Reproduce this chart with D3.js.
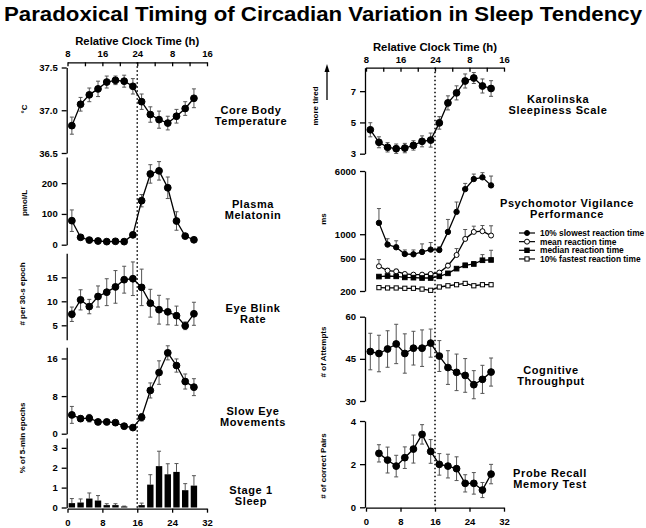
<!DOCTYPE html>
<html>
<head>
<meta charset="utf-8">
<script src="https://cdn.jsdelivr.net/npm/d3@7"></script>
<style>
body { margin: 0; background: #fff; }
svg { font-family: "Liberation Sans", Arial, sans-serif; font-weight: bold; }
</style>
</head>
<body>
<svg width="646" height="528"></svg>
<script>
// elapsed hours of each sample
const hours = [1, 3, 5, 7, 9, 11, 13, 15, 17, 19, 21, 23, 25, 27, 29];
const hoursLate = [3, 5, 7, 9, 11, 13, 15, 17, 19, 21, 23, 25, 27, 29];

// axis tick labels
const clockTicks = [0, 4, 8, 12, 16, 20, 24, 28, 32];
const clockLabels = ["8", "", "16", "", "24", "", "8", "", "16"];
const elapsedTicks = [0, 8, 16, 24, 32];

// left column
const tempMean = [36.82, 37.07, 37.18, 37.25, 37.33, 37.35, 37.34, 37.28, 37.10, 36.95, 36.89, 36.85, 36.93, 37.02, 37.14];
const tempSem = [0.10, 0.08, 0.08, 0.09, 0.07, 0.05, 0.07, 0.09, 0.09, 0.09, 0.10, 0.08, 0.08, 0.08, 0.11];
const melMean = [78, 24, 15, 12, 10, 11, 10, 32, 143, 230, 240, 185, 77, 28, 16];
const melSem = [35, 6, 4, 3, 3, 3, 3, 8, 20, 30, 30, 35, 30, 8, 4];
const blinkMean = [7.3, 10.3, 8.9, 11.0, 11.9, 13.0, 14.5, 14.7, 12.9, 9.6, 8.25, 7.8, 7.0, 4.9, 7.4];
const blinkSem = [1.5, 2.1, 1.5, 2.2, 2.8, 3.4, 2.8, 3.5, 3.8, 2.9, 3.0, 2.7, 2.0, 0.8, 2.4];
const semMean = [4.0, 3.2, 3.3, 2.5, 2.5, 2.35, 1.6, 1.3, 3.5, 9.2, 13.0, 17.2, 14.5, 11.1, 9.9];
const semSem = [1.8, 0.6, 0.8, 0.4, 0.3, 0.3, 0.4, 0.3, 0.8, 1.6, 2.5, 1.5, 1.4, 1.6, 1.8];
const stage1Mean = [0.22, 0.25, 0.45, 0.35, 0.12, 0.12, 0.05, 0, 0.12, 1.15, 2.08, 1.67, 1.79, 0.87, 1.1];
const stage1Sem = [0.23, 0.18, 0.28, 0.25, 0.07, 0.07, 0.02, 0, 0.1, 0.5, 0.75, 0.53, 0.42, 0.33, 0.5];

// right column
const kssMean = [4.53, 3.73, 3.41, 3.32, 3.36, 3.53, 3.79, 3.87, 4.97, 6.25, 6.89, 7.65, 7.84, 7.33, 7.17];
const kssSem = [0.45, 0.35, 0.3, 0.3, 0.3, 0.3, 0.35, 0.45, 0.4, 0.45, 0.45, 0.45, 0.35, 0.45, 0.5];
const pvtSlowest = [1379, 746, 691, 571, 566, 605, 647, 640, 1068, 1884, 3593, 4775, 5013, 3990];
const pvtSlowestHi = [2070, 880, 830, 640, 640, 760, 790, 700, 1520, 2490, 4220, 5500, 5720, 5200];
const pvtMean = [403, 356, 349, 324, 318, 318, 324, 337, 410, 555, 875, 1068, 1089, 963];
const pvtMeanHi = [487, 380, 370, 335, 328, 328, 335, 350, 440, 666, 1143, 1256, 1280, 1270];
const pvtMedian = [301, 306, 303, 294, 292, 289, 289, 303, 330, 377, 414, 430, 478, 482];
const pvtMedianHi = [310, 315, 312, 300, 298, 295, 295, 310, 340, 390, 440, 460, 561, 634];
const pvtFastest = [220, 218, 218, 216, 216, 211, 204, 224, 232, 239, 248, 232, 239, 239];
const pvtLegend = ["10% slowest reaction time", "mean reaction time", "median reaction time", "10% fastest reaction time"];
const cogMean = [47.6, 46.9, 48.5, 50.3, 46.9, 48.8, 48.8, 50.6, 46.0, 41.9, 40.2, 39.1, 35.8, 37.7, 40.3];
const cogSem = [6.5, 6.5, 6.5, 7, 7, 6, 6.5, 5, 5.5, 6, 6.5, 6, 5, 5, 5];
const probeMean = [2.5, 2.19, 1.91, 2.3, 2.7, 3.38, 2.59, 1.99, 1.91, 1.79, 1.11, 1.11, 0.8, 1.54];
const probeSem = [0.4, 0.6, 0.5, 0.5, 0.65, 0.45, 0.55, 0.5, 0.55, 0.55, 0.4, 0.5, 0.35, 0.45];

let svg = d3.select("svg");
const FONT = "'Liberation Sans', Arial, sans-serif";

// x scales, one per column
let xL = d3.scaleLinear().domain([0, 32]).range([67.5, 207]);
let xR = d3.scaleLinear().domain([0, 32]).range([366, 504]);
const axL = 66.7, axR = 365;

function styleAxis(g) {
  g.attr("font-family", FONT).attr("font-size", 9.5).attr("font-weight", "bold");
  g.selectAll("path, line").attr("stroke", "#000").attr("stroke-width", 1.3);
  g.selectAll("text").attr("fill", "#000");
}

function yAxis(y, ax, ticks, fmt) {
  let g = svg.append("g").attr("transform", `translate(${ax},0)`)
    .call(d3.axisLeft(y).tickValues(ticks).tickFormat(fmt || d3.format("")).tickSize(5).tickSizeOuter(0).tickPadding(4));
  styleAxis(g);
}

function topAxis(x, yPos) {
  let g = svg.append("g").attr("transform", `translate(0,${yPos})`)
    .call(d3.axisTop(x).tickValues(clockTicks).tickFormat((d, i) => clockLabels[i]).tickSize(-4).tickSizeOuter(0).tickPadding(5));
  styleAxis(g);
  svg.append("text").attr("x", (x.range()[0] + x.range()[1]) / 2).attr("y", yPos - 17)
    .attr("text-anchor", "middle").attr("font-size", 11.3).text("Relative Clock Time (h)");
}

function bottomAxis(x, yPos) {
  let g = svg.append("g").attr("transform", `translate(0,${yPos})`)
    .call(d3.axisBottom(x).tickValues(elapsedTicks).tickSize(4).tickSizeOuter(0).tickPadding(7));
  styleAxis(g);
}

function yLabel(x, y, txt) {
  svg.append("text").attr("transform", `translate(${x},${y}) rotate(-90)`)
    .attr("text-anchor", "middle").attr("font-size", 8).text(txt);
}

function panelLabel(x, y, lines) {
  lines.forEach((l, i) => {
    svg.append("text").attr("x", x).attr("y", y + i * 11).attr("text-anchor", "middle")
      .attr("font-size", 11).attr("letter-spacing", 0.6).text(l);
  });
}

// error bars + line + markers
function series(x, y, hrs, vals, lo, hi, opt) {
  let d = hrs.map((h, i) => ({ h: h, v: vals[i], lo: lo[i], hi: hi[i] }));
  let g = svg.append("g");
  let ec = opt.errColor || "#555";
  let cap = opt.cap || 2;
  g.selectAll(".eb").data(d).enter().append("line")
    .attr("x1", p => x(p.h)).attr("x2", p => x(p.h))
    .attr("y1", p => y(p.lo)).attr("y2", p => y(p.hi))
    .attr("stroke", ec).attr("stroke-width", 1);
  g.selectAll(".capHi").data(d).enter().append("line")
    .attr("x1", p => x(p.h) - cap).attr("x2", p => x(p.h) + cap)
    .attr("y1", p => y(p.hi)).attr("y2", p => y(p.hi))
    .attr("stroke", ec).attr("stroke-width", 1);
  if (!opt.upOnly) {
    g.selectAll(".capLo").data(d).enter().append("line")
      .attr("x1", p => x(p.h) - cap).attr("x2", p => x(p.h) + cap)
      .attr("y1", p => y(p.lo)).attr("y2", p => y(p.lo))
      .attr("stroke", ec).attr("stroke-width", 1);
  }
  g.append("path").datum(d)
    .attr("d", d3.line().x(p => x(p.h)).y(p => y(p.v)))
    .attr("fill", "none").attr("stroke", "#000").attr("stroke-width", 1.3);
  marker(g, d.map(p => [x(p.h), y(p.v)]), opt.shape || "circle", opt.filled !== false, opt.r || 3.4);
}

function marker(g, pts, shape, filled, r) {
  if (shape === "circle") {
    g.selectAll(".m").data(pts).enter().append("circle")
      .attr("cx", p => p[0]).attr("cy", p => p[1]).attr("r", r)
      .attr("fill", filled ? "#000" : "#fff").attr("stroke", "#000").attr("stroke-width", 1);
  } else {
    g.selectAll(".m").data(pts).enter().append("rect")
      .attr("x", p => p[0] - r).attr("y", p => p[1] - r).attr("width", 2 * r).attr("height", 2 * r)
      .attr("fill", filled ? "#000" : "#fff").attr("stroke", "#000").attr("stroke-width", 1);
  }
}

const minus = (a, b) => a.map((v, i) => v - b[i]);
const plus = (a, b) => a.map((v, i) => v + b[i]);

// title
svg.append("text").attr("x", 4).attr("y", 21).attr("font-size", 20.5)
  .attr("textLength", 638).attr("lengthAdjust", "spacingAndGlyphs")
  .text("Paradoxical Timing of Circadian Variation in Sleep Tendency");

// ---------- left column ----------
topAxis(xL, 62.3);
bottomAxis(xL, 508.7);

let yTemp = d3.scaleLinear().domain([36.5, 37.5]).range([153, 67.5]);
yAxis(yTemp, axL, [36.5, 37.0, 37.5], d3.format(".1f"));
series(xL, yTemp, hours, tempMean, minus(tempMean, tempSem), plus(tempMean, tempSem), {});
yLabel(27, 109, "°C");
panelLabel(251, 114, ["Core Body", "Temperature"]);

let yMel = d3.scaleLinear().domain([0, 285]).range([244.7, 157]);
yAxis(yMel, axL, [0, 100, 200]);
series(xL, yMel, hours, melMean, minus(melMean, melSem), plus(melMean, melSem), {});
yLabel(27, 203, "pmol/L");
panelLabel(253, 207.5, ["Plasma", "Melatonin"]);

let yBlink = d3.scaleLinear().domain([2, 20]).range([339.7, 253.3]);
yAxis(yBlink, axL, [5, 10, 15]);
series(xL, yBlink, hours, blinkMean, minus(blinkMean, blinkSem), plus(blinkMean, blinkSem), {});
yLabel(25, 294, "# per 30-s epoch");
panelLabel(253, 311.5, ["Eye Blink", "Rate"]);

let ySem = d3.scaleLinear().domain([0, 18.4]).range([433.7, 347.2]);
yAxis(ySem, axL, [0, 8, 16]);
series(xL, ySem, hours, semMean, minus(semMean, semSem), plus(semMean, semSem), {});
panelLabel(253, 415, ["Slow Eye", "Movements"]);
yLabel(25, 438, "% of 5-min epochs");

let yS1 = d3.scaleLinear().domain([0, 3.5]).range([507.5, 437.9]);
yAxis(yS1, axL, [0, 1, 2, 3]);
let s1 = hours.map((h, i) => ({ h: h, v: stage1Mean[i], e: stage1Sem[i] })).filter(p => p.v > 0);
svg.append("g").selectAll("line").data(s1).enter().append("line")
  .attr("x1", p => xL(p.h)).attr("x2", p => xL(p.h))
  .attr("y1", p => yS1(p.v)).attr("y2", p => yS1(p.v + p.e))
  .attr("stroke", "#555").attr("stroke-width", 1);
svg.append("g").selectAll("line").data(s1).enter().append("line")
  .attr("x1", p => xL(p.h) - 2).attr("x2", p => xL(p.h) + 2)
  .attr("y1", p => yS1(p.v + p.e)).attr("y2", p => yS1(p.v + p.e))
  .attr("stroke", "#555").attr("stroke-width", 1);
svg.append("g").selectAll("rect").data(s1).enter().append("rect")
  .attr("x", p => xL(p.h) - 3.2).attr("width", 6.4)
  .attr("y", p => yS1(p.v)).attr("height", p => yS1(0) - yS1(p.v))
  .attr("fill", "#000");
panelLabel(251, 493.5, ["Stage 1", "Sleep"]);

// ---------- right column ----------
topAxis(xR, 67.7);
bottomAxis(xR, 507.7);

let yKss = d3.scaleLinear().domain([3, 8.5]).range([153.7, 67.7]);
yAxis(yKss, axR, [3, 5, 7]);
series(xR, yKss, hours, kssMean, minus(kssMean, kssSem), plus(kssMean, kssSem), {});
panelLabel(558, 103, ["Karolinska", "Sleepiness Scale"]);
// "more tired" arrow
svg.append("line").attr("x1", 327).attr("x2", 327).attr("y1", 100).attr("y2", 71)
  .attr("stroke", "#000").attr("stroke-width", 1.3);
svg.append("path").attr("d", "M327,64 L324.5,72 L329.5,72 Z").attr("fill", "#000");
yLabel(318, 106, "more tired");

let yPvt = d3.scaleLog().domain([200, 6000]).range([291, 171]);
yAxis(yPvt, axR, [200, 500, 1000, 6000], d3.format("d"));
series(xR, yPvt, hoursLate, pvtSlowest, pvtSlowest, pvtSlowestHi, { upOnly: true, r: 2.7 });
series(xR, yPvt, hoursLate, pvtMean, pvtMean, pvtMeanHi, { upOnly: true, r: 2.5, filled: false });
series(xR, yPvt, hoursLate, pvtMedian, pvtMedian, pvtMedianHi, { upOnly: true, r: 2.3, shape: "square" });
series(xR, yPvt, hoursLate, pvtFastest, pvtFastest, pvtFastest, { upOnly: true, r: 2.1, shape: "square", filled: false });
yLabel(326, 219, "ms");
panelLabel(567, 206.5, ["Psychomotor Vigilance", "Performance"]);

// PVT legend
const legendStyle = [["circle", true, 2.5], ["circle", false, 2.5], ["square", true, 2.2], ["square", false, 2.1]];
pvtLegend.forEach((txt, i) => {
  let ly = 233 + i * 8.65;
  let g = svg.append("g");
  g.append("line").attr("x1", 519).attr("x2", 535).attr("y1", ly).attr("y2", ly)
    .attr("stroke", "#000").attr("stroke-width", 1.2);
  marker(g, [[527, ly]], legendStyle[i][0], legendStyle[i][1], legendStyle[i][2]);
  g.append("text").attr("x", 540).attr("y", ly + 3).attr("font-size", 8.4).text(txt);
});

let yCog = d3.scaleLinear().domain([30, 60]).range([401, 316.7]);
yAxis(yCog, axR, [30, 45, 60]);
series(xR, yCog, hours, cogMean, minus(cogMean, cogSem), plus(cogMean, cogSem), {});
yLabel(326, 352, "# of Attempts");
panelLabel(551, 374, ["Cognitive", "Throughput"]);

let yProbe = d3.scaleLinear().domain([0, 4]).range([507.3, 421]);
yAxis(yProbe, axR, [0, 2, 4]);
series(xR, yProbe, hoursLate, probeMean, minus(probeMean, probeSem), plus(probeMean, probeSem), {});
yLabel(326, 466, "# of correct Pairs");
panelLabel(550, 477, ["Probe Recall", "Memory Test"]);

// dotted lines at 24:00 clock time
svg.append("line").attr("x1", xL(16)).attr("x2", xL(16)).attr("y1", 62.3).attr("y2", 508.7)
  .attr("stroke", "#000").attr("stroke-width", 1.5).attr("stroke-dasharray", "1.5,2.5");
svg.append("line").attr("x1", xR(16)).attr("x2", xR(16)).attr("y1", 67.7).attr("y2", 507.7)
  .attr("stroke", "#000").attr("stroke-width", 1.5).attr("stroke-dasharray", "1.5,2.5");
</script>
</body>
</html>
